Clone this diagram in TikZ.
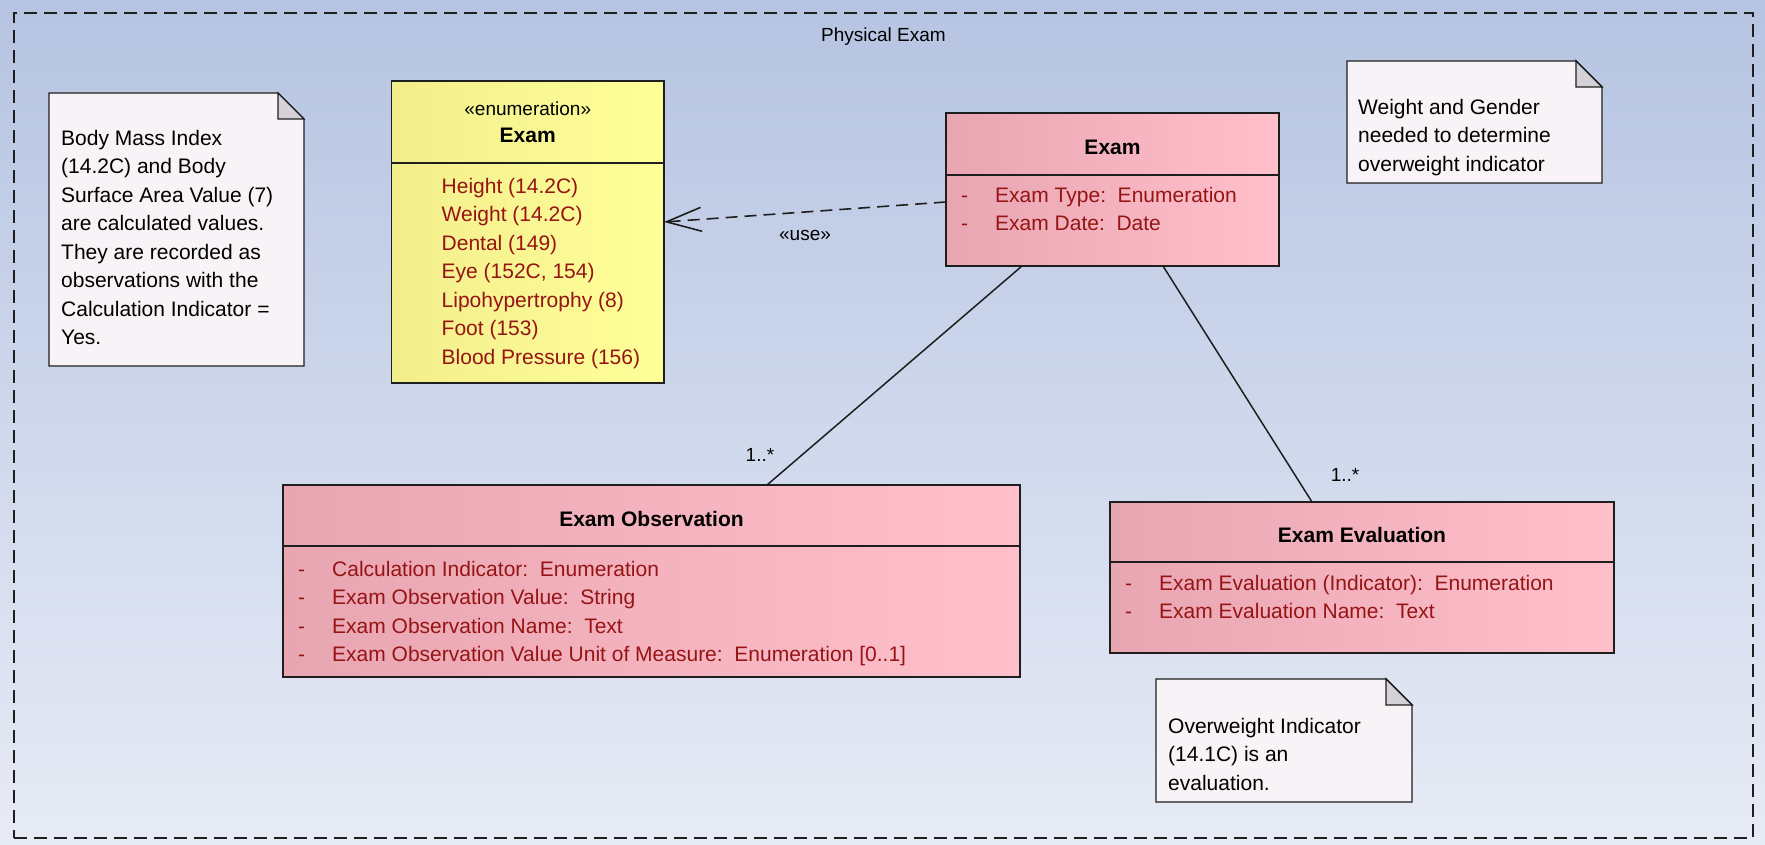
\documentclass[tikz,border=0pt]{standalone}
\usepackage{fontspec}
\setmainfont{Liberation Sans}
\usepackage{tikz}
\usetikzlibrary{positioning}
\usetikzlibrary{calc,arrows.meta}

\definecolor{bgtop}{RGB}{182,196,226}
\definecolor{bgbot}{RGB}{231,235,245}
\definecolor{pinkL}{RGB}{232,165,178}
\definecolor{pinkR}{RGB}{255,192,203}
\definecolor{yellowL}{RGB}{242,238,140}
\definecolor{yellowR}{RGB}{255,255,153}
\definecolor{notewhite}{RGB}{247,243,246}
\definecolor{foldgray}{RGB}{212,210,216}
\definecolor{attrred}{RGB}{150,20,20}
\definecolor{umlline}{RGB}{30,30,30}

\newcommand\umlfont{\fontsize{21}{28.5}\selectfont}
\newcommand\umltitlefont{\fontsize{21}{27}\selectfont\bfseries}
\newcommand\umlsmallfont{\fontsize{19}{27}\selectfont}
\newcommand\attr[1]{\makebox[34pt][l]{-}#1}

\begin{document}
\begin{tikzpicture}[x=1pt,y=-1pt,
  umlframe/.style={rectangle, outer sep=0pt, draw=umlline, line width=1.6pt,
    dash pattern=on 13pt off 7pt},
  umlbox/.style={rectangle, outer sep=0pt, inner sep=0pt, draw=umlline,
    line width=1.6pt},
  classhead/.style={umlbox, left color=pinkL, right color=pinkR, font=\umltitlefont,
    text height=21pt, text depth=0pt},
  classbody/.style={umlbox, left color=pinkL, right color=pinkR},
  enumhead/.style={umlbox, left color=yellowL, right color=yellowR, align=center,
    font=\umltitlefont},
  enumbody/.style={umlbox, left color=yellowL, right color=yellowR},
  attrtext/.style={anchor=north west, inner sep=0pt, align=left, text=attrred,
    font=\umlfont},
  notebox/.style={rectangle, inner sep=0pt, outer sep=0pt},
  notetext/.style={anchor=north west, inner sep=0pt, align=left, font=\umlfont},
  notefill/.style={draw=umlline, line width=1.4pt, fill=notewhite},
  foldfill/.style={draw=umlline, line width=1.4pt, fill=foldgray},
  assoc/.style={draw=umlline, line width=1.5pt},
  usedep/.style={draw=umlline, line width=1.6pt, dash pattern=on 12pt off 7pt,
    -{Straight Barb[length=35pt,width=24pt,line width=1.6pt]}},
  mult/.style={inner sep=0pt, font=\umlsmallfont}]

  \fill[top color=bgtop, bottom color=bgbot] (0,0) rectangle (1765,845);
  \useasboundingbox (0,0) rectangle (1765,845);

  % package frame
  \node[umlframe, minimum width=1739pt, minimum height=825pt] at (883.5,425.5) (pkg) {};
  \node[inner sep=0pt, font=\umlsmallfont] (pkgtitle) [below=15pt of pkg.north] {Physical Exam};

  % classes
  \node[classhead, minimum width=333pt, minimum height=62pt] at (1112.5,144) (exam) {Exam};
  \node[classbody, minimum width=333pt, minimum height=91pt] (examattr)
  [below=0pt of exam] {};
  \node[attrtext] at ($(examattr.north west)+(15,12)$) (examattrtxt)
  {\attr{Exam Type:~~Enumeration}\\\attr{Exam Date:~~Date}};

  \node[enumhead, minimum width=272.5pt, minimum height=82pt] at (527.75,122) (enum)
  {{\umlsmallfont\mdseries «enumeration»}\\Exam};
  \node[enumbody, minimum width=272.5pt, minimum height=220pt] (enumlit)
  [below=0pt of enum] {};
  \node[attrtext] at ($(enumlit.north west)+(50,15)$) (enumlittxt)
  {Height (14.2C)\\Weight (14.2C)\\Dental (149)\\Eye (152C, 154)\\
   Lipohypertrophy (8)\\Foot (153)\\Blood Pressure (156)};

  \node[classhead, minimum width=737pt, minimum height=61pt] at (651.5,515.5) (obs)
  {Exam Observation};
  \node[classbody, minimum width=737pt, minimum height=131pt] (obsattr)
  [below=0pt of obs] {};
  \node[attrtext] at ($(obsattr.north west)+(15,15)$) (obsattrtxt)
  {\attr{Calculation Indicator:~~Enumeration}\\
   \attr{Exam Observation Value:~~String}\\
   \attr{Exam Observation Name:~~Text}\\
   \attr{Exam Observation Value Unit of Measure:~~Enumeration [0..1]}};

  \node[classhead, minimum width=504pt, minimum height=60pt] at (1362,532) (eval)
  {Exam Evaluation};
  \node[classbody, minimum width=504pt, minimum height=91pt] (evalattr)
  [below=0pt of eval] {};
  \node[attrtext] at ($(evalattr.north west)+(15,13)$) (evalattrtxt)
  {\attr{Exam Evaluation (Indicator):~~Enumeration}\\
   \attr{Exam Evaluation Name:~~Text}};

  % notes
  \node[notebox, minimum width=255pt, minimum height=273pt] at (176.5,229.5) (bminote) {};
  \node[notebox, minimum width=255pt, minimum height=122pt] at (1474.5,122) (gendernote) {};
  \node[notebox, minimum width=256pt, minimum height=123pt] at (1284,740.5) (overnote) {};

\draw[notefill] (bminote.north west) -- ($(bminote.north east)+(-26,0)$)
  -- ($(bminote.north east)+(0,26)$) -- (bminote.south east) -- (bminote.south west) -- cycle;
\draw[foldfill] ($(bminote.north east)+(-26,0)$) -- ($(bminote.north east)+(-26,26)$)
  -- ($(bminote.north east)+(0,26)$) -- cycle;
\draw[notefill] (gendernote.north west) -- ($(gendernote.north east)+(-26,0)$)
  -- ($(gendernote.north east)+(0,26)$) -- (gendernote.south east) -- (gendernote.south west) -- cycle;
\draw[foldfill] ($(gendernote.north east)+(-26,0)$) -- ($(gendernote.north east)+(-26,26)$)
  -- ($(gendernote.north east)+(0,26)$) -- cycle;
\draw[notefill] (overnote.north west) -- ($(overnote.north east)+(-26,0)$)
  -- ($(overnote.north east)+(0,26)$) -- (overnote.south east) -- (overnote.south west) -- cycle;
\draw[foldfill] ($(overnote.north east)+(-26,0)$) -- ($(overnote.north east)+(-26,26)$)
  -- ($(overnote.north east)+(0,26)$) -- cycle;

  \node[notetext] at ($(bminote.north west)+(12,37)$) (bminotetxt)
  {Body Mass Index\\(14.2C) and Body\\Surface Area Value (7)\\are calculated values.\\
   They are recorded as\\observations with the\\Calculation Indicator =\\Yes.};
  \node[notetext] at ($(gendernote.north west)+(11,38)$) (gendernotetxt)
  {Weight and Gender\\needed to determine\\overweight indicator};
  \node[notetext] at ($(overnote.north west)+(12,39)$) (overnotetxt)
  {Overweight Indicator\\(14.1C) is an\\evaluation.};

  % connectors
  \path[assoc]
 ($(examattr.south west)+(76,0)$) edge ($(obs.north west)+(484,0)$)
 ($(examattr.south west)+(217,0)$) edge ($(eval.north west)+(202,0)$);

\draw[usedep] ($(exam.south west)+(0,27)$) -- ($(enumlit.north east)+(0,59)$);

\node[mult] at (805,235) (uselabel) {«use»};
\node[mult] at (760,455) (obsmult) {1..*};
\node[mult] at (1345,475) (evalmult) {1..*};

\end{tikzpicture}
\end{document}
